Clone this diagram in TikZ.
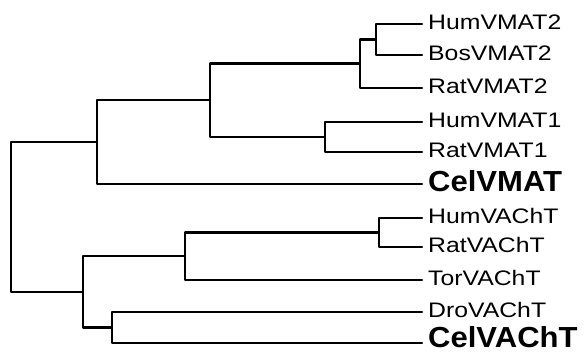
\documentclass[tikz,border=0pt]{standalone}
\usepackage{graphicx}
\usepackage{fontspec}
\setmainfont{Liberation Sans}
\newcommand\reglab[1]{\scalebox{1.18}[1]{\fontsize{21}{21}\selectfont #1}}
\newcommand\boldlab[1]{\scalebox{1.07}[1]{\fontsize{29}{29}\selectfont\bfseries #1}}
\begin{document}
\begin{tikzpicture}[x=1pt,y=-1pt,
  branch/.style={line width=2.1pt,line join=round,line cap=round},
  leaflab/.style={anchor=base west,inner sep=0pt}]
\useasboundingbox (0,0) rectangle (587,352);
\fill[white] (0,0) rectangle (587,352);
% leaf tips
\coordinate (t1) at (422,24);
\coordinate (t2) at (422,55);
\coordinate (t3) at (422,88);
\coordinate (t4) at (422,122);
\coordinate (t5) at (422,152);
\coordinate (t6) at (422,184);
\coordinate (t7) at (422,218);
\coordinate (t8) at (422,247);
\coordinate (t9) at (422,280);
\coordinate (t10) at (422,312);
\coordinate (t11) at (422,343);
% labels
\node[leaflab] (l1) at (428,30) {\reglab{HumVMAT2}};
\node[leaflab] (l2) at (428,61) {\reglab{BosVMAT2}};
\node[leaflab] (l3) at (428,94) {\reglab{RatVMAT2}};
\node[leaflab] (l4) at (428,128) {\reglab{HumVMAT1}};
\node[leaflab] (l5) at (428,158) {\reglab{RatVMAT1}};
\node[leaflab] (l6) at (428,192) {\boldlab{CelVMAT}};
\node[leaflab] (l7) at (428,224) {\reglab{HumVAChT}};
\node[leaflab] (l8) at (428,253) {\reglab{RatVAChT}};
\node[leaflab] (l9) at (428,286) {\reglab{TorVAChT}};
\node[leaflab] (l10) at (428,318) {\reglab{DroVAChT}};
\node[leaflab] (l11) at (428,348) {\boldlab{CelVAChT}};
% internal nodes
\coordinate (hb) at (376,39.5);
\coordinate (v2) at (360,63.5);
\coordinate (v1) at (325,137);
\coordinate (v12) at (210,100);
\coordinate (vm) at (97,142);
\coordinate (hr) at (379,232.5);
\coordinate (va) at (185,256);
\coordinate (dc) at (112,327.5);
\coordinate (vac) at (83,292);
\coordinate (root) at (11,217);
% branches
\draw[branch] (hb) |- (t1);
\draw[branch] (hb) |- (t2);
\draw[branch] (v2) |- (hb);
\draw[branch] (v2) |- (t3);
\draw[branch] (v1) |- (t4);
\draw[branch] (v1) |- (t5);
\draw[branch] (v12) |- (v2);
\draw[branch] (v12) |- (v1);
\draw[branch] (vm) |- (v12);
\draw[branch] (vm) |- (t6);
\draw[branch] (hr) |- (t7);
\draw[branch] (hr) |- (t8);
\draw[branch] (va) |- (hr);
\draw[branch] (va) |- (t9);
\draw[branch] (dc) |- (t10);
\draw[branch] (dc) |- (t11);
\draw[branch] (vac) |- (va);
\draw[branch] (vac) |- (dc);
\draw[branch] (root) |- (vm);
\draw[branch] (root) |- (vac);
\end{tikzpicture}
\end{document}
